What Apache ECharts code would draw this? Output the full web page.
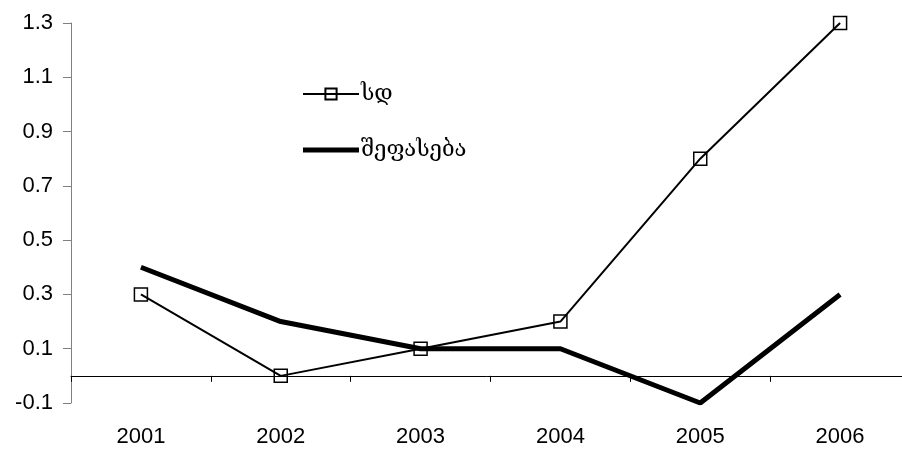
<!DOCTYPE html>
<html><head><meta charset="utf-8">
<script src="https://cdn.jsdelivr.net/npm/echarts@6/dist/echarts.min.js"></script>
<style>html,body{margin:0;padding:0;background:#fff}#c{width:902px;height:451px}</style>
</head><body><div id="c"></div>
<script>
const years = ['2001','2002','2003','2004','2005','2006'];
const sdName = 'სდ';
const sdValues = [0.3, 0.0, 0.1, 0.2, 0.8, 1.3];
const estName = 'შეფასება';
const estValues = [0.4, 0.2, 0.1, 0.1, -0.1, 0.3];
const yMin = -0.1, yMax = 1.3, yStep = 0.2;

const chart = echarts.init(document.getElementById('c'));
chart.setOption({
  animation: false,
  backgroundColor: '#fff',
  textStyle: {fontFamily: 'Liberation Sans', fontSize: 22},
  grid: {left: 71, top: 23, right: -8, bottom: 48, containLabel: false, outerBoundsMode: 'none'},
  legend: {
    orient: 'vertical', left: 297, top: 78, itemWidth: 56, itemHeight: 14, itemGap: 34,
    data: [
      {name: sdName},
      {name: estName, icon: 'path://M0,0 H56 V5 H0 Z', itemStyle: {color: '#000'}}
    ],
    textStyle: {fontFamily: 'DejaVu Serif', fontSize: 22, color: '#000', padding: [0,0,0,-3]}
  },
  xAxis: [{
    type: 'category', data: years, boundaryGap: true,
    axisLine: {onZero: true, lineStyle: {color: '#000', width: 1}},
    axisTick: {show: true, inside: false, length: 6, lineStyle: {color: '#000'}},
    axisLabel: {show: false},
    splitLine: {show: false}
  }, {
    type: 'category', data: years, boundaryGap: true, position: 'bottom',
    axisLine: {show: false, onZero: false},
    axisTick: {show: false},
    axisLabel: {margin: 23, fontFamily: 'Liberation Sans', fontSize: 22, color: '#000'},
    splitLine: {show: false}
  }],
  yAxis: {
    type: 'value', min: yMin, max: yMax, interval: yStep,
    axisLine: {show: true, lineStyle: {color: '#808080', width: 1}},
    axisTick: {show: true, length: 8, lineStyle: {color: '#808080'}},
    axisLabel: {margin: 18, fontFamily: 'Liberation Sans', fontSize: 22, color: '#000',
      formatter: v => (Math.round(v*10)/10).toFixed(1)},
    splitLine: {show: false}
  },
  series: [
    {name: sdName, type: 'line', data: sdValues, z: 3, xAxisIndex: 0,
     symbol: 'rect', symbolSize: 13, showAllSymbol: true,
     lineStyle: {color: '#000', width: 2},
     itemStyle: {color: 'rgba(255,255,255,0)', borderColor: '#000', borderWidth: 1.5}},
    {name: estName, type: 'line', data: estValues, z: 2, xAxisIndex: 0,
     symbol: 'none',
     lineStyle: {color: '#000', width: 5},
     itemStyle: {color: '#000'}}
  ]
});
</script></body></html>
